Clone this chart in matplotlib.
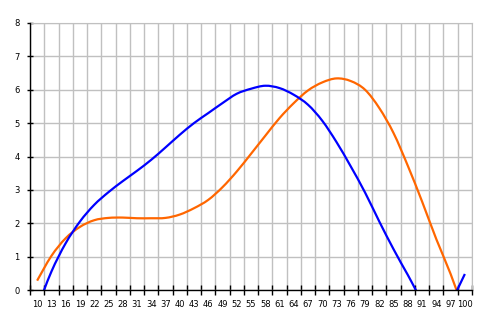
import matplotlib
matplotlib.use('Agg')
import matplotlib.pyplot as plt
import numpy as np
from matplotlib.path import Path
from matplotlib.patches import PathPatch

## Chart data, one value per category
x_labels = [10, 13, 16, 19, 22, 25, 28, 31, 34, 37, 40, 43, 46, 49, 52, 55,
            58, 61, 64, 67, 70, 73, 76, 79, 82, 85, 88, 91, 94, 97, 100]
blue_vals = [-0.55, 0.55, 1.40, 2.05, 2.55, 2.93, 3.26, 3.57, 3.90, 4.27, 4.65,
             5.00, 5.30, 5.60, 5.88, 6.03, 6.12, 6.05, 5.85, 5.55, 5.07,
             4.43, 3.70, 2.92, 2.05, 1.22, 0.45, -0.30, -0.60, -0.34, 0.48]
orange_vals = [0.28, 1.02, 1.55, 1.89, 2.09, 2.16, 2.17, 2.15, 2.15, 2.16, 2.26,
               2.45, 2.70, 3.08, 3.55, 4.08, 4.62, 5.15, 5.60, 5.98, 6.22,
               6.34, 6.26, 6.00, 5.45, 4.70, 3.72, 2.65, 1.52, 0.48, -0.70]


def smooth_path(xs, ys):
    # excel-like smoothed line: catmull-rom turned into cubic bezier segments
    pts = np.column_stack([xs, ys]).astype(float)
    ext = np.vstack([pts[0], pts, pts[-1]])
    verts = [pts[0]]
    codes = [Path.MOVETO]
    for i in range(1, len(ext) - 2):
        p0, p1, p2, p3 = ext[i - 1], ext[i], ext[i + 1], ext[i + 2]
        c1 = p1 + (p2 - p0) / 6.0
        c2 = p2 - (p3 - p1) / 6.0
        verts += [c1, c2, p2]
        codes += [Path.CURVE4] * 3
    return Path(verts, codes)


W, H = 487, 327
fig = plt.figure(figsize=(W / 100, H / 100), dpi=100)
ax = fig.add_axes([30 / W, (H - 290) / H, 442 / W, 267 / H])

for vals, col in [(orange_vals, '#ff6600'), (blue_vals, '#0000ff')]:
    patch = PathPatch(smooth_path(x_labels, vals), facecolor='none',
                      edgecolor=col, lw=1.6, zorder=3, capstyle='butt')
    ax.add_patch(patch)

ax.set_xlim(8.5, 101.5)
ax.set_ylim(0, 8)

# category borders carry ticks and gridlines, labels sit in the middle
ax.set_xticks(np.arange(8.5, 101.6, 3))
ax.set_xticklabels([])
ax.set_xticks(x_labels, minor=True)
ax.set_xticklabels([str(v) for v in x_labels], minor=True)
ax.set_yticks(range(0, 9))

ax.tick_params(axis='x', which='major', direction='inout', length=7, width=1, color='black')
ax.tick_params(axis='x', which='minor', length=0, pad=7, labelsize=6)
ax.tick_params(axis='y', direction='inout', length=5, width=1, pad=5, labelsize=6)

ax.grid(True, which='major', color='#c0c0c0', lw=1)
ax.set_axisbelow(True)

for s in ['top', 'right']:
    ax.spines[s].set_color('#c0c0c0')
for s in ['left', 'bottom']:
    ax.spines[s].set_color('black')
    ax.spines[s].set_linewidth(1)
    ax.spines[s].set_zorder(4)

fig.savefig('out.png', dpi=100)
